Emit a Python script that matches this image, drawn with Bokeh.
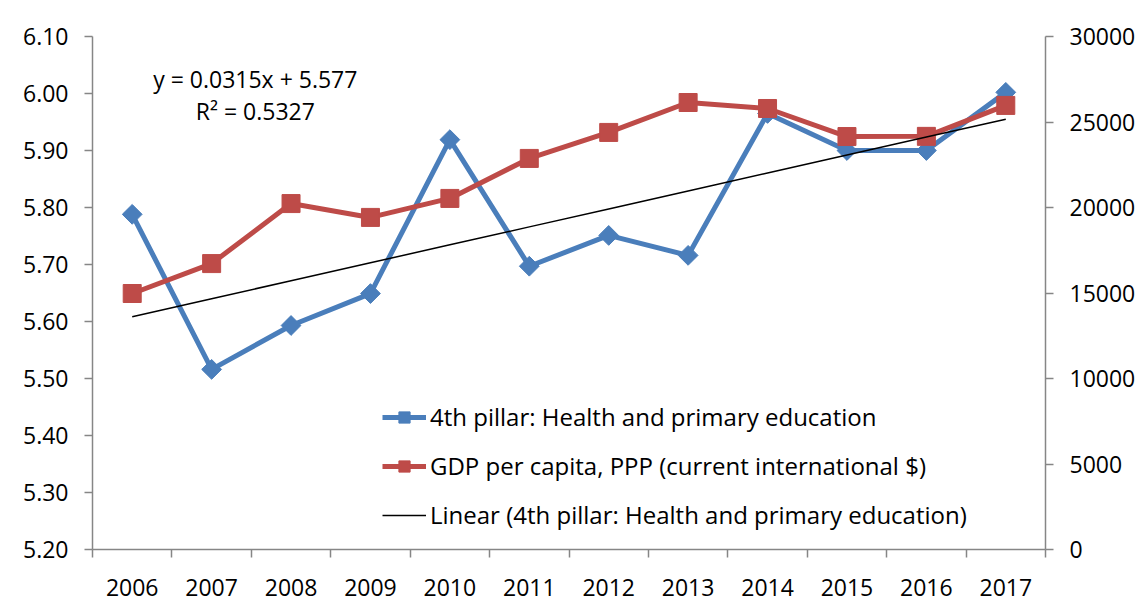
from bokeh.plotting import figure
from bokeh.models import (Range1d, LinearAxis, FixedTicker, NumeralTickFormatter,
                          Legend, LegendItem, Label, ColumnDataSource)
from bokeh.embed import file_html
from bokeh.resources import INLINE

years = ["2006", "2007", "2008", "2009", "2010", "2011", "2012", "2013", "2014", "2015", "2016", "2017"]
pillar = [5.788, 5.516, 5.593, 5.649, 5.919, 5.697, 5.751, 5.716, 5.965, 5.900, 5.900, 6.002]
gdp = [14970, 16720, 20230, 19420, 20530, 22870, 24390, 26140, 25790, 24150, 24160, 25970]
trend_slope = 0.0315
trend_intercept = 5.577
eq_text = "y = 0.0315x + 5.577"
r2_text = "R\u00b2 = 0.5327"
left_ticks = [5.2, 5.3, 5.4, 5.5, 5.6, 5.7, 5.8, 5.9, 6.0, 6.1]
right_ticks = [0, 5000, 10000, 15000, 20000, 25000, 30000]

FONT = "Open Sans"
FS = "23px"
GRID = "#868686"
BLUE = "#4A7EBB"
RED = "#BE4B48"

xs = list(range(1, len(years) + 1))
trend = [trend_slope * x + trend_intercept for x in xs]
src = ColumnDataSource(dict(x=xs, pillar=pillar, gdp=gdp, trend=trend))

p = figure(width=1138, height=606, output_backend="svg", toolbar_location=None,
           x_range=Range1d(0.5, len(years) + 0.5), y_range=Range1d(5.2, 6.1),
           min_border_left=92, min_border_right=90, min_border_top=36, min_border_bottom=57,
           x_axis_type=None, y_axis_type=None)
p.extra_y_ranges = {"gdp": Range1d(0, 30000)}
p.outline_line_color = None

yl = LinearAxis(ticker=FixedTicker(ticks=left_ticks), formatter=NumeralTickFormatter(format="0.00"))
yr = LinearAxis(y_range_name="gdp", ticker=FixedTicker(ticks=right_ticks),
                formatter=NumeralTickFormatter(format="0"))
xa = LinearAxis(ticker=FixedTicker(ticks=xs, minor_ticks=[x - 0.5 for x in xs] + [len(xs) + 0.5]))
xa.major_label_overrides = {x: y for x, y in zip(xs, years)}

for ax in (yl, yr, xa):
    ax.axis_line_color = GRID
    ax.axis_line_width = 1.5
    ax.major_tick_line_color = GRID
    ax.major_tick_line_width = 1.5
    ax.major_tick_out = 8
    ax.major_tick_in = 0
    ax.minor_tick_line_color = None
    ax.major_label_text_font = FONT
    ax.major_label_text_font_size = FS
    ax.major_label_text_color = "#000000"
    ax.major_label_standoff = 16

xa.major_tick_line_color = None
xa.minor_tick_line_color = GRID
xa.minor_tick_line_width = 1.5
xa.minor_tick_out = 8
xa.minor_tick_in = 0
xa.major_label_standoff = 21

p.add_layout(yl, "left")
p.add_layout(yr, "right")
p.add_layout(xa, "below")

p.ygrid.ticker = FixedTicker(ticks=left_ticks)
p.ygrid.grid_line_color = GRID
p.ygrid.grid_line_width = 1.5
p.xgrid.grid_line_color = None

bl = p.line("x", "pillar", source=src, line_color=BLUE, line_width=5)
bm = p.scatter("x", "pillar", source=src, marker="square", angle=0.785398, size=14,
               fill_color=BLUE, line_color=BLUE)
rl = p.line("x", "gdp", source=src, y_range_name="gdp", line_color=RED, line_width=5)
rm = p.scatter("x", "gdp", source=src, y_range_name="gdp", marker="square", size=18,
               fill_color=RED, line_color=RED)
tl = p.line("x", "trend", source=src, line_color="#000000", line_width=1.5)

p.add_layout(Label(x=2.55, y=6.026, text=eq_text, text_align="center", text_baseline="middle",
                   text_font=FONT, text_font_size=FS, text_color="#000000"))
p.add_layout(Label(x=2.55, y=5.970, text=r2_text, text_align="center", text_baseline="middle",
                   text_font=FONT, text_font_size=FS, text_color="#000000"))

legend = Legend(items=[
    LegendItem(label="4th pillar: Health and primary education", renderers=[bl, bm]),
    LegendItem(label="GDP per capita, PPP (current international $)", renderers=[rl, rm]),
    LegendItem(label="Linear (4th pillar: Health and primary education)", renderers=[tl]),
], location=(290, 18))
legend.background_fill_alpha = 0
legend.border_line_color = None
legend.padding = 0
legend.margin = 0
legend.glyph_width = 44
legend.glyph_height = 28
legend.label_height = 28
legend.spacing = 16
legend.label_standoff = 4
legend.label_text_font = FONT
legend.label_text_font_size = "24px"
legend.label_text_color = "#000000"
p.add_layout(legend, "center")

open("out.html", "w").write(file_html(p, INLINE))
